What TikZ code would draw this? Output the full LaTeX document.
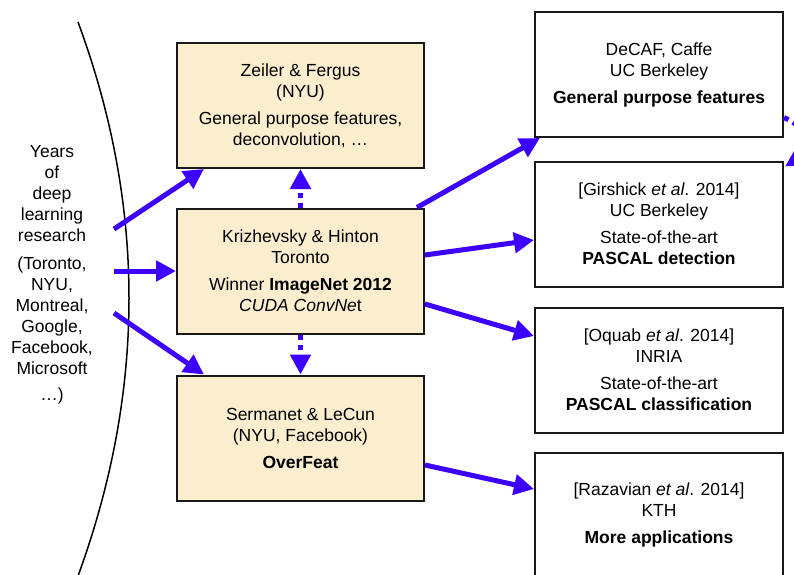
\documentclass[tikz,border=0pt]{standalone}
\usepackage{fontspec}
\setmainfont{Liberation Sans}
\usetikzlibrary{arrows.meta,calc}
\definecolor{arrblue}{RGB}{60,0,255}
\definecolor{boxfill}{RGB}{250,238,206}
\definecolor{boxline}{RGB}{25,25,25}
\begin{document}
\begin{tikzpicture}[x=1pt,y=-1pt,
  txt/.style={font=\fontsize{17.5}{21}\selectfont, align=center, inner sep=0pt},
  lbox/.style={txt, draw=boxline, line width=2pt, fill=boxfill, minimum width=247pt, minimum height=125pt},
  rbox/.style={txt, draw=boxline, line width=2pt, fill=white, minimum width=248pt, minimum height=125pt},
  arr/.style={draw=arrblue, line width=5pt, -{Triangle[length=20pt,width=20pt]}},
  darr/.style={arr, dash pattern=on 5pt off 5pt}]
\useasboundingbox (0,0) rectangle (794,574);
\clip (0,0) rectangle (794,574);
\fill[white] (0,0) rectangle (794,574);

% left arc
\draw[line width=1.5pt] (78,22) .. controls (146,206) and (146,390) .. (78,576);

% left text
\node[txt, anchor=north] (lt) at (52,145) {Years\\of\\deep\\learning\\research\\[7pt](Toronto,\\NYU,\\Montreal,\\Google,\\Facebook,\\Microsoft\\[5pt]…)};

% left boxes
\node[lbox] (zf) at (300.5,105.5) {Zeiler \& Fergus\\(NYU)\\[6pt]General purpose features,\\deconvolution, …};
\node[lbox] (kh) at (300.5,271) {Krizhevsky \& Hinton\\Toronto\\[6pt]Winner \textbf{ImageNet 2012}\\\textit{CUDA ConvNe}t};
\node[lbox] (sl) at (300.5,438) {Sermanet \& LeCun\\(NYU, Facebook)\\[6pt]\textbf{OverFeat}};

% right boxes
\node[rbox] (dc) at (659,74.5) {DeCAF, Caffe\\UC Berkeley\\[6pt]\textbf{General purpose features}};
\node[rbox] (gi) at (659,224) {[Girshick \textit{et al}. 2014]\\UC Berkeley\\[6pt]State-of-the-art\\\textbf{PASCAL detection}};
\node[rbox] (oq) at (659,370) {[Oquab \textit{et al}. 2014]\\INRIA\\[6pt]State-of-the-art\\\textbf{PASCAL classification}};
\node[rbox] (rz) at (659,515) {[Razavian \textit{et al}. 2014]\\KTH\\[6pt]\textbf{More applications}};

% free ends
\coordinate (s1) at (114,229);
\coordinate (s2) at (114,271);
\coordinate (s3) at (114,313);

% arrows from research
\draw[arr] (s1) -- ($(zf.south west)+(28,0)$);
\draw[arr] (s2) -- (kh.west);
\draw[arr] (s3) -- ($(sl.north west)+(28,0)$);

% dotted vertical
\draw[darr] (kh.north) -- (zf.south);
\draw[darr] (kh.south) -- (sl.north);

% arrows to right boxes
\draw[arr] ($(kh.north east)+(-8,0)$) -- ($(dc.south west)+(6,0)$);
\draw[arr] ($(kh.east)+(0,-16)$) -- ($(gi.west)+(0,16)$);
\draw[arr] ($(kh.east)+(0,33)$) -- ($(oq.west)+(0,-34)$);
\draw[arr] ($(sl.east)+(0,27)$) -- ($(rz.west)+(0,-26)$);

% dotted loop off the right edge
\draw[darr] ($(dc.east)+(0,43)$) .. controls (815,132) and (812,150) .. ($(gi.north east)+(1,6)$);
\end{tikzpicture}
\end{document}
